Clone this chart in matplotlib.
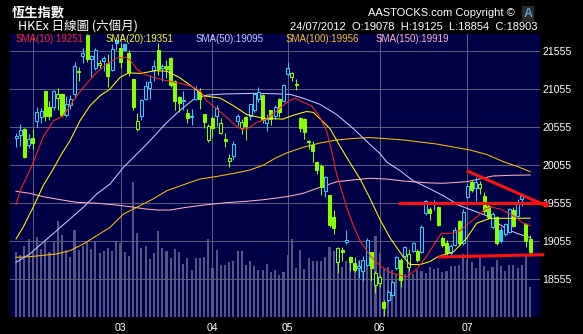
import matplotlib
matplotlib.use('Agg')
import matplotlib.pyplot as plt
import numpy as np

# 恆生指數 日線 (2012-01-26 .. 2012-07-24)
opens = [20400, 20440, 20525, 20310, 20400, 20630, 20680, 21030, 20810, 20810,
         20930, 20990, 20710, 20840, 20980, 21290, 21490, 21760, 21440, 21330,
         21370, 21420, 21390, 21300, 21700, 21590, 21640, 21520, 21180, 20520,
         20700, 20920, 21060, 21300, 21560, 21330, 21360, 21460, 21150, 20950,
         20890, 20740, 20680, 20920, 21010, 20720, 20380, 20670, 20690, 20470,
         20390, 20100, 20170, 20630, 20540, 20680, 20700, 20770, 20920, 20970,
         20600, 20770, 20700, 20920, 20890, 21250, 21210, 21120, 20670, 20650,
         20370, 20320, 20090, 20040, 19710, 19650, 19360, 18775, 18930, 19040,
         18840, 18760, 18700, 18660, 18730, 18900, 18470, 18500, 18250, 18270,
         18340, 18695, 18800, 18850, 18710, 18920, 18920, 18905, 19420, 19470,
         19540, 19500, 19090, 19020, 18890, 19000, 19310, 19025, 19630, 19830,
         19745, 19745, 19640, 19510, 19235, 19365, 19195, 19140, 19170, 19460,
         19380, 19600, 19275, 19078]
highs = [20470, 20590, 20540, 20460, 20530, 20815, 20800, 21030, 20890, 21040,
         21060, 21000, 20960, 20970, 21400, 21340, 21590, 21780, 21500, 21590,
         21430, 21480, 21510, 21640, 21720, 21660, 21660, 21560, 21180, 20740,
         20920, 21160, 21230, 21430, 21650, 21380, 21430, 21470, 21170, 20960,
         21030, 20790, 20790, 21090, 21070, 20720, 20590, 20690, 20840, 20670,
         20470, 20190, 20370, 20720, 20660, 20700, 20860, 21000, 21080, 20980,
         20720, 20780, 20840, 20930, 21120, 21400, 21270, 21180, 20680, 20670,
         20380, 20370, 20100, 20060, 19910, 19660, 19460, 18970, 18970, 19190,
         18850, 18840, 18800, 18850, 19090, 18910, 18660, 18600, 18270, 18400,
         18530, 18850, 18830, 18990, 18950, 19040, 18940, 19260, 19590, 19500,
         19590, 19510, 19120, 19060, 19010, 19235, 19325, 19470, 19800, 19855,
         19890, 19840, 19695, 19560, 19430, 19380, 19230, 19290, 19490, 19500,
         19600, 19660, 19290, 19125]
lows = [20290, 20300, 20140, 20280, 20260, 20550, 20610, 20630, 20640, 20780,
        20780, 20680, 20680, 20790, 20930, 21160, 21390, 21400, 21210, 21300,
        21330, 21290, 21080, 21290, 21560, 21330, 21550, 21220, 20780, 20500,
        20640, 20900, 20920, 21160, 21240, 21160, 21200, 21080, 20780, 20750,
        20780, 20600, 20580, 20910, 20790, 20540, 20360, 20420, 20560, 20460,
        20290, 20020, 20120, 20560, 20460, 20380, 20640, 20750, 20880, 20610,
        20500, 20580, 20660, 20680, 20880, 21230, 21160, 21040, 20480, 20390,
        20260, 20090, 19930, 19650, 19630, 19240, 19140, 18630, 18790, 19010,
        18650, 18640, 18560, 18520, 18720, 18520, 18370, 18450, 18060, 18250,
        18320, 18670, 18440, 18830, 18660, 18900, 18770, 18890, 19390, 19330,
        19460, 19250, 18970, 18860, 18870, 18980, 19000, 19000, 19615, 19695,
        19580, 19670, 19405, 19340, 19210, 18998, 19020, 19120, 19150, 19235,
        19370, 19510, 18970, 18854]
closes = [20430, 20510, 20150, 20390, 20340, 20750, 20760, 20695, 20690, 21020,
          20990, 20710, 20860, 20920, 21355, 21270, 21530, 21440, 21485, 21560,
          21395, 21460, 21220, 21580, 21660, 21400, 21560, 21270, 20810, 20630,
          20900, 21090, 21140, 21350, 21310, 21360, 21320, 21110, 20890, 20870,
          20900, 20670, 20700, 21050, 20920, 20620, 20560, 20540, 20800, 20610,
          20370, 20140, 20330, 20700, 20620, 20570, 20850, 20990, 21010, 20640,
          20660, 20650, 20810, 20750, 21100, 21330, 21260, 21100, 20540, 20490,
          20360, 20240, 19980, 19760, 19890, 19260, 19220, 18960, 18910, 19070,
          18780, 18670, 18720, 18800, 19060, 18690, 18630, 18570, 18170, 18380,
          18510, 18840, 18540, 18970, 18880, 19020, 18800, 19235, 19580, 19420,
          19560, 19260, 19000, 18890, 18980, 19190, 19025, 19430, 19775, 19720,
          19830, 19800, 19445, 19365, 19405, 19025, 19050, 19270, 19470, 19250,
          19540, 19640, 19050, 18903]
volumes = [32.7, 31.0, 35.5, 38.9, 33.2, 39.9, 33.9, 38.2, 32.7, 38.0,
           48.0, 41.0, 33.5, 30.2, 43.5, 33.5, 35.7, 37.4, 33.9, 37.5,
           32.2, 33.2, 34.5, 33.2, 37.5, 36.9, 32.7, 30.5, 67.7, 42.2,
           34.7, 35.7, 29.0, 32.2, 43.2, 34.5, 33.2, 29.7, 34.0, 32.7,
           26.5, 29.5, 23.5, 29.5, 29.5, 30.2, 38.9, 24.5, 33.5, 26.0,
           26.0, 27.5, 27.9, 33.0, 33.0, 26.0, 28.0, 25.5, 23.5, 23.5,
           26.5, 22.5, 23.5, 21.2, 22.5, 31.0, 38.9, 24.5, 33.5, 24.0,
           29.5, 28.0, 28.0, 28.0, 30.0, 34.9, 33.0, 30.0, 24.9, 28.0,
           28.0, 26.0, 28.0, 28.0, 31.0, 28.5, 40.5, 32.2, 24.5, 25.0,
           23.5, 21.5, 20.5, 21.5, 24.5, 21.5, 23.5, 23.0, 22.0, 25.0,
           24.0, 24.5, 22.5, 23.0, 25.5, 25.5, 26.0, 31.5, 28.5, 27.5,
           24.5, 30.0, 25.5, 23.0, 25.0, 28.5, 25.5, 23.0, 26.0, 26.0,
           24.5, 26.0, 31.0, 15.0]

# moving averages (day index, value)
sma10_i = [0, 1, 3.8, 6.5, 8.9, 11.3, 13.7, 16.1, 19.3, 21.7, 24.1, 26.1, 27.3, 28.9,
           30.5, 32.8, 36.1, 39.2, 41.6, 44.0, 45.6, 48.0, 50.4, 52.8, 54.0, 55.2,
           57.6, 60.0, 62.4, 64.8, 66.7, 68.7, 70.7, 72.7, 74.3, 75.5, 76.7, 77.9,
           79.1, 80.7, 82.3, 84.7, 87.1, 89.5, 91.9, 93.5, 95.9, 98.3, 100.6, 101.8,
           104.2, 106.2, 108.6, 110.6, 112.2, 113.8, 115.8, 117.4, 119.4, 121.0, 123]
sma10_v = [19528, 19713, 20041, 20420, 20630, 20700, 20897, 21073, 21270, 21380, 21459,
           21468, 21433, 21314, 21250, 21205, 21160, 21126, 21094, 21028, 20897, 20788,
           20678, 20555, 20524, 20524, 20612, 20656, 20765, 20876, 20932, 20876, 20831,
           20678, 20502, 20239, 19932, 19713, 19494, 19252, 19055, 18857, 18725, 18638,
           18600, 18580, 18682, 18857, 19055, 19152, 19152, 19186, 19297, 19383, 19472,
           19494, 19472, 19428, 19370, 19297, 19251]
sma20_i = [0, 1.7, 4.1, 6.5, 8.9, 10.9, 12.9, 15.3, 17.7, 20.1, 22.5, 24.9, 26.9, 29.9,
           33.3, 36.1, 39.2, 42.4, 45.0, 48.8, 51.9, 55.2, 59.2, 63.9, 66.3, 69.5,
           71.1, 72.7, 75.1, 77.5, 79.9, 82.3, 84.7, 87.1, 89.5, 92.6, 94.3, 96.7,
           99.0, 101.0, 104.7, 107.8, 110.2, 113.4, 118.8, 123]
sma20_v = [19077, 19231, 19494, 19778, 19998, 20195, 20370, 20633, 20831, 20962, 21051,
           21205, 21262, 21257, 21292, 21285, 21200, 21070, 20960, 20932, 20835, 20715,
           20665, 20655, 20705, 20755, 20744, 20660, 20530, 20300, 20080, 19870, 19610,
           19330, 19090, 18845, 18740, 18740, 18780, 18845, 18910, 19086, 19284, 19349,
           19349, 19351]
sma50_i = [0, 3.3, 6.5, 9.7, 12.9, 16.1, 19.3, 22.5, 25.7, 28.1, 30.9, 32.8, 36.1, 39.2,
           42.4, 45.6, 49.6, 53.6, 57.6, 62.0, 65.6, 68.7, 72.7, 76.7, 80.7, 84.7,
           87.1, 88.7, 91.9, 95.0, 98.3, 102.2, 106.2, 109.4, 112.6, 114.9, 117.4,
           119.8, 123]
sma50_v = [18770, 18880, 19034, 19186, 19340, 19494, 19669, 19801, 20020, 20152, 20305,
           20415, 20612, 20770, 20910, 20970, 20985, 20990, 20994, 20988, 20980, 20930,
           20850, 20715, 20530, 20320, 20200, 20090, 19975, 19844, 19757, 19647, 19515,
           19450, 19383, 19297, 19208, 19152, 19095]
sma100_i = [0, 3.3, 9.7, 12.9, 16.1, 19.3, 22.5, 25.7, 28.9, 32.8, 36.1, 40.0, 44.0,
            48.0, 52.0, 56.0, 59.2, 62.0, 64.8, 68.7, 72.7, 76.7, 80.7, 84.7, 92.7,
            100.6, 108.6, 112.6, 116.6, 120.0, 123]
sma100_v = [18836, 18844, 18880, 18923, 19011, 19120, 19231, 19406, 19494, 19604, 19713,
            19790, 19866, 19900, 19940, 19985, 20050, 20140, 20210, 20284, 20340, 20380,
            20400, 20412, 20380, 20327, 20248, 20190, 20094, 20030, 19963]
sma150_i = [0, 3.3, 6.5, 10.5, 14.5, 19.3, 23.3, 27.3, 30.9, 34.0, 36.8, 40.8, 45.6,
            50.4, 55.2, 59.2, 64.8, 68.7, 72.7, 76.7, 80.7, 84.7, 88.7, 92.7, 98.7,
            102.2, 107.9, 114.1, 118.2, 123]
sma150_v = [19705, 19678, 19634, 19595, 19560, 19547, 19528, 19502, 19472, 19458, 19458,
            19494, 19528, 19555, 19573, 19594, 19634, 19678, 19757, 19830, 19855, 19876,
            19866, 19840, 19815, 19810, 19831, 19906, 19915, 19919]

# hand-drawn trend lines
trend_x = [[107.8, 127.3], [91.5, 127.3], [101.0, 126.4]]
trend_y = [[19976, 19504], [19550, 19550], [18840, 18870]]

month_pos = [4, 25, 47, 65, 87, 108]
month_lab = ['', '03', '04', '05', '06', '07']
price_ticks = [18555, 19055, 19555, 20055, 20555, 21055, 21555]

navy = '#000046'
cyan = '#33ccff'
green = '#88ff00'

W, H = 583, 334
fig = plt.figure(figsize=(W / 100, H / 100), dpi=100, facecolor='black')
rect = [10 / W, 17 / H, 530 / W, 283 / H]
ax = fig.add_axes(rect)
axv = ax.twinx()
axv.set_zorder(1)
ax.set_zorder(2)
ax.patch.set_visible(False)
axv.patch.set_visible(True)
axv.patch.set_facecolor(navy)

x = np.arange(len(closes))
o = np.array(opens)
c = np.array(closes)
prev = np.r_[o[0], c[:-1]]
col = np.where(c >= prev, cyan, green)

# volume
axv.bar(x, volumes, width=0.5, color='#555585', linewidth=0)
axv.set_ylim(0, 141.5)
axv.set_yticks([])

# grid
ax.set_xlim(-1.44, 125.36)
ax.set_ylim(18050, 21775)
ax.set_yticks(price_ticks)
ax.set_xticks(month_pos)
ax.set_xticklabels(month_lab)
ax.grid(True, color='#5c5c7c', linewidth=0.75)
ax.set_axisbelow(True)
ax.yaxis.tick_right()
ax.tick_params(length=0, colors='white', labelsize=7.6)
ax.tick_params(axis='y', pad=1.5)
ax.tick_params(axis='x', pad=4)
for lab in ax.get_xticklabels() + ax.get_yticklabels():
    lab.set_family('Liberation Sans')
for a in (ax, axv):
    for s in a.spines.values():
        s.set_visible(False)

# moving averages
ax.plot(sma150_i, sma150_v, color='#ffb0c0', lw=0.75, zorder=2)
ax.plot(sma100_i, sma100_v, color='#ffc000', lw=0.75, zorder=2)
ax.plot(sma50_i, sma50_v, color='#c8c8ff', lw=0.75, zorder=2)

# candles
ax.vlines(x, lows, highs, colors=col, lw=0.75, zorder=3)
bottom = np.minimum(o, c)
height = np.maximum(np.abs(c - o), 8)
face = [navy if cc > oo else cl for cc, oo, cl in zip(c, o, col)]
ax.bar(x, height, bottom=bottom, width=0.72, color=face, edgecolor=col,
       linewidth=0.75, zorder=4)

ax.plot(sma20_i, sma20_v, color='#ffff00', lw=0.75, zorder=5)
ax.plot(sma10_i, sma10_v, color='#ff2020', lw=0.75, zorder=5)

for tx, ty in zip(trend_x, trend_y):
    ax.plot(tx, ty, color='#ff1010', lw=2.2, clip_on=False, zorder=6,
            solid_capstyle='butt')

# legend row
leg = [('SMA(10):19251', '#ff2020', 16), ('SMA(20):19351', '#ffff00', 106),
       ('SMA(50):19095', '#c8c8ff', 196), ('SMA(100):19956', '#ffc000', 286),
       ('SMA(150):19919', '#ffb0c0', 376)]
for t, cl, px in leg:
    fig.text(px / W, 1 - 38.5 / H, t, color=cl, fontsize=7, va='center',
             family='Liberation Sans')

# header
cjk = ['Noto Sans CJK TC', 'DejaVu Sans']
fig.text(12 / W, 1 - 13 / H, '恆生指數', color='white', fontsize=9.5,
         fontweight='bold', va='center', family=cjk)
fig.text(18 / W, 1 - 27 / H, 'HKEx 日線圖 (六個月)', color='white', fontsize=9,
         va='center', family=cjk)
fig.text(537 / W, 1 - 26.7 / H, '24/07/2012  O:19078  H:19125  L:18854  C:18903',
         color='white', fontsize=8, va='center', ha='right', family='Liberation Sans')
fig.text(515 / W, 1 - 13.3 / H, 'AASTOCKS.com Copyright ©', color='white',
         fontsize=8, va='center', ha='right', family='Liberation Sans')
fig.text(528 / W, 1 - 14 / H, 'A', color='#5b9bd5', fontsize=9, fontweight='bold',
         va='center', ha='center', family='Liberation Sans',
         bbox=dict(boxstyle='square,pad=0.15', fc='#2a2a2a', ec='none'))

fig.savefig('out.png', dpi=100, facecolor='black')
